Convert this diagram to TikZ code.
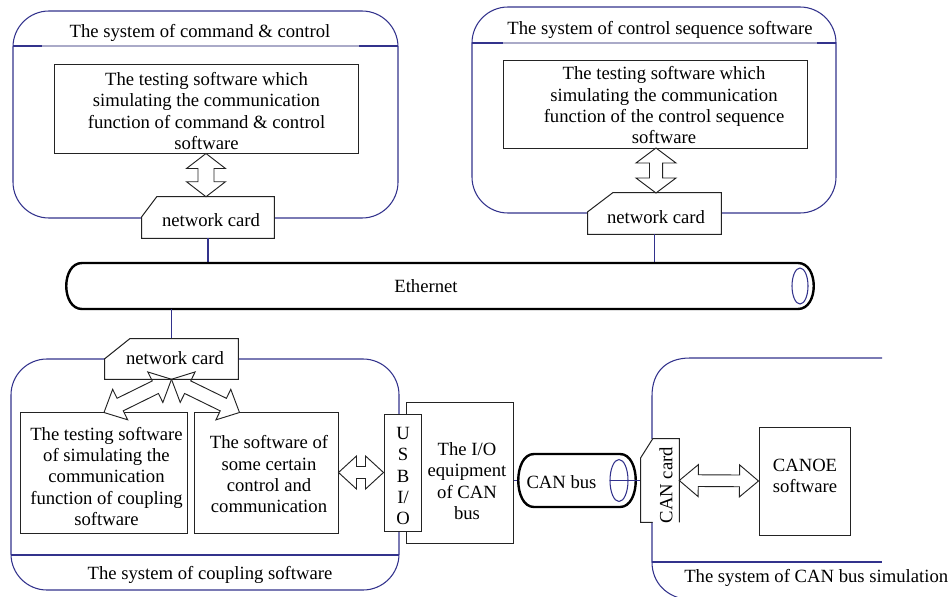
\documentclass[tikz,border=0pt]{standalone}
\usepackage{fontspec}
\setmainfont{Liberation Serif}
\usetikzlibrary{calc,fit}

\definecolor{sysblue}{RGB}{50,50,140}
\definecolor{hdrgray}{RGB}{170,170,200}
\definecolor{boxline}{RGB}{35,35,35}

\tikzset{
  sysline/.style={draw=sysblue, line width=0.8pt},
  sysbox/.style={sysline, rounded corners=27pt, inner sep=0pt},
  hdrline/.style={draw=hdrgray, line width=0.8pt},
  box/.style={draw=boxline, line width=0.75pt, fill=white, inner sep=0pt},
  cardbg/.style={fill=white, inner sep=0pt},
  cardedge/.style={draw=boxline, line width=0.75pt},
  txt/.style={align=center, inner sep=0pt},
  region/.style={inner sep=0pt},
  tube/.style={draw=black, line width=1.8pt, fill=white},
  blockarrow/.style={draw=boxline, line width=0.7pt, fill=white},
  link/.style={draw=sysblue, line width=0.8pt},
}

% double-headed block arrow between two points:
% #1,#2 end points, #3 half shaft width, #4 half head width, #5 head length
\newcommand\dblarrow[5]{%
  \path[blockarrow] let \p1=($(#2)-(#1)$), \n1={atan2(\y1,\x1)} in
    (#1) -- ($(#1)+({\n1}:#5)+({\n1+90}:#4)$) -- ($(#1)+({\n1}:#5)+({\n1+90}:#3)$)
    -- ($(#2)+({\n1+180}:#5)+({\n1+90}:#3)$) -- ($(#2)+({\n1+180}:#5)+({\n1+90}:#4)$)
    -- (#2) -- ($(#2)+({\n1+180}:#5)+({\n1-90}:#4)$) -- ($(#2)+({\n1+180}:#5)+({\n1-90}:#3)$)
    -- ($(#1)+({\n1}:#5)+({\n1-90}:#3)$) -- ($(#1)+({\n1}:#5)+({\n1-90}:#4)$) -- cycle;
}

% outline of an interface card whose top-left corner is cut off
% #1 node, #2 cut width, #3 cut height
\newcommand\cardoutline[3]{%
  \draw[cardedge] (#1.south west) -- ($(#1.north west)+(0,#3)$)
    -- ($(#1.north west)+(#2,0)$) -- (#1.north east) -- (#1.south east) -- cycle;
}

\begin{document}
\begin{tikzpicture}[x=0.75pt, y=-0.75pt, font=\fontsize{14pt}{16pt}\selectfont]
\useasboundingbox (0,0) rectangle (949,596);

% ---------- system of command & control ----------
\node[sysbox, fit={(13,11)(398,218)}] (sysA) {};
\draw[sysline] (13,46) -- (42,46) (359,46) -- (398,46);
\draw[hdrline] (42,46) -- (359,46);
\node[txt] (titleA) at (200,33) {The system of command \& control};

\node[box, fit={(54,64)(358,153)}] (boxA) {};
\node[txt] (boxAtext) at (206.5,111) {The testing software which\\simulating the communication\\function of command \& control\\software};

\node[cardbg, fit={(142,197)(274,238)}] (cardA) {};
\coordinate (aA1) at (boxA.south);
\coordinate (aA2) at (boxA.south |- cardA.north);
\dblarrow{aA1}{aA2}{6pt}{14.6pt}{11.25pt}
\cardoutline{cardA}{15}{20}
\node[txt] (cardAtext) at (211,220) {network card};

% ---------- system of control sequence software ----------
\node[sysbox, fit={(472,7)(836,213)}] (sysB) {};
\draw[sysline] (472,43) -- (503,43) (817,43) -- (836,43);
\draw[hdrline] (503,43) -- (817,43);
\node[txt] (titleB) at (660,30) {The system of control sequence software};

\node[box, fit={(503,60)(807,148)}] (boxB) {};
\node[txt] (boxBtext) at (664,105.5) {The testing software which\\simulating the communication\\function of the control sequence\\software};

\node[cardbg, fit={(588,193)(721,234)}] (cardB) {};
\coordinate (aB1) at (656,148);
\coordinate (aB2) at (656,193);
\dblarrow{aB1}{aB2}{4.9pt}{15pt}{11.25pt}
\cardoutline{cardB}{25}{19}
\node[txt] (cardBtext) at (656,217) {network card};

% ---------- Ethernet ----------
\node[region, fit={(66,263)(814,309)}] (eth) {};
\draw[link] (cardA.south) -- (cardA.south |- eth.north);
\draw[link] (cardB.south) -- (cardB.south |- eth.north);
\draw[tube] (82,263) -- (798,263) .. controls (819,263) and (819,309) .. (798,309)
  -- (82,309) .. controls (61,309) and (61,263) .. (82,263) -- cycle;
\coordinate (ethCap) at (800,286);
\draw[sysline] (ethCap) ellipse [x radius=6pt, y radius=13.5pt];
\node[txt] (ethtext) at (426,286) {Ethernet};

% ---------- system of coupling software ----------
\node[sysbox, fit={(11,359)(399,590)}] (sysC) {};
\draw[sysline] (11,555) -- (399,555);
\node[txt] (titleC) at (210,575) {The system of coupling software};

\node[cardbg, fit={(105,339)(238,379)}] (cardC) {};
\draw[link] (eth.south -| cardC.north) -- (cardC.north);

\node[box, fit={(20,412)(187,533)}] (box1) {};
\node[txt] (box1text) at (106.5,476.5) {The testing software\\of simulating the\\communication\\function of coupling\\software};
\node[box, fit={(194,412)(338,533)}] (box2) {};
\node[txt] (box2text) at (269,474.5) {The software of\\some certain\\control and\\communication};

\coordinate (forkTop) at (cardC.south);
\coordinate (forkL) at ($(box1.north)+(0.5,1)$);
\coordinate (forkR) at ($(box2.north west)+(46,1)$);
\dblarrow{forkL}{forkTop}{5.25pt}{12.75pt}{13.5pt}
\dblarrow{forkR}{forkTop}{5.25pt}{12.75pt}{13.5pt}
\cardoutline{cardC}{25}{20}
\node[txt] (cardCtext) at (175,358.5) {network card};

% I/O equipment with its USB port
\node[box, fit={(406,402)(513,543)}] (io) {};
\node[txt] (iotext) at (467,481) {The I/O\\equipment\\of CAN\\bus};
\node[box, fit={(384,414)(421,531)}] (usb) {};
\node[txt] (usbtext) at (403,476) {U\\S\\B\\I/\\O};
\dblarrow{box2.east}{usb.west}{4.5pt}{12.4pt}{13.5pt}

% ---------- CAN bus ----------
\node[region, fit={(518,454)(636,507)}] (canbus) {};
\draw[link] (canbus.west -| io.east) -- (canbus.west);
\draw[tube] (534,454) -- (620,454) .. controls (641,454) and (641,507) .. (620,507)
  -- (534,507) .. controls (513,507) and (513,454) .. (534,454) -- cycle;
\coordinate (canCap) at (619,480.5);
\draw[sysline] (canCap) ellipse [x radius=6.75pt, y radius=15.75pt];
\node[txt] (canbustext) at (561.5,482) {CAN bus};

% ---------- system of CAN bus simulation (open to the right) ----------
\draw[sysline] (882,358) -- (690,358) .. controls (666,358) and (652,372) .. (652,396)
  -- (652,562) .. controls (652,583) and (667,598) .. (690,600);
\draw[sysline] (652,562) -- (882,562);
\node[txt, anchor=west] (titleD) at (684,578) {The system of CAN bus simulation};

\node[cardbg, fit={(641,439)(679,522)}] (cancard) {};
\draw[link] ($(canCap)+(-9,0)$) -- (canbus.east -| cancard.west);
\draw[cardedge] ($(cancard.south west)+(12,0)$) -- (cancard.south west)
  -- ($(cancard.north west)+(0,19)$) -- ($(cancard.north west)+(12,0)$)
  -- (cancard.north east) -- (cancard.south east);
\node[txt, rotate=90] (cancardtext) at (666,485) {CAN card};

\node[box, fit={(759,427)(850,535)}] (canoe) {};
\node[txt] (canoetext) at (805,476) {CANOE\\software};
\dblarrow{cancard.east}{canoe.west}{4.4pt}{12pt}{14.25pt}

\end{tikzpicture}
\end{document}
